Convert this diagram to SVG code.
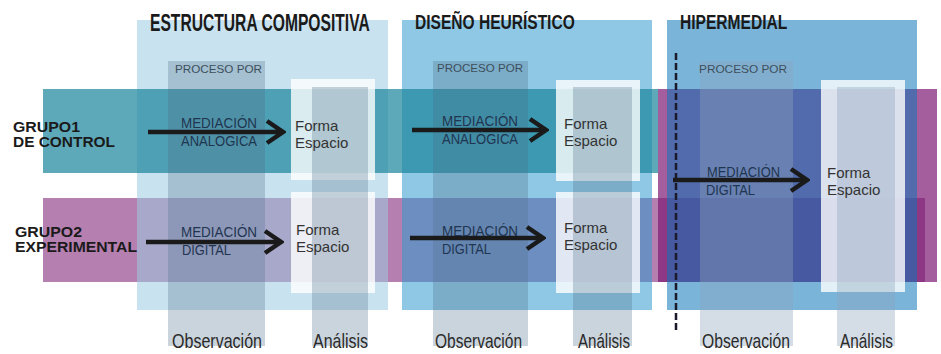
<svg xmlns="http://www.w3.org/2000/svg" width="941" height="354" viewBox="0 0 941 354">
<defs>
<style>
.band2{fill:#b57fb0}
.block{fill:#7e1a74;fill-opacity:.7}
.p1{fill:#9ccbe2;fill-opacity:.55}
.p2{fill:#329bce;fill-opacity:.55}
.p3{fill:#0d76b8;fill-opacity:.55}
.band1{fill:#19849b;fill-opacity:.7}
.frame{fill:#ffffff;fill-opacity:.8}
.col{fill:#50708a;fill-opacity:.3}
.col3{fill:#8fa5bd;fill-opacity:.38}
.hdr{font-family:"Liberation Sans",Arial,sans-serif;font-weight:bold;fill:#1a1a1a}
.grp{font-family:"Liberation Sans",Arial,sans-serif;font-weight:bold;font-size:14px;fill:#1a1a1a}
.proc{font-family:"Liberation Sans",Arial,sans-serif;font-size:11px;fill:#3d4f5c}
.med{font-family:"Liberation Sans",Arial,sans-serif;font-size:14px;fill:#1f3550}
.fe{font-family:"Liberation Sans",Arial,sans-serif;font-size:15px;fill:#333333}
.bot{font-family:"Liberation Sans",Arial,sans-serif;font-size:21px;fill:#2a2a2a}
.arrow{stroke:#1a1a1a;stroke-width:4.5;fill:none;marker-end:url(#chev)}
.dash{stroke:#1a1a2a;stroke-width:2.5;stroke-dasharray:7 3;fill:none}
</style>
<marker id="chev" viewBox="0 0 22 28" markerWidth="22" markerHeight="28" refX="19" refY="14" orient="auto" markerUnits="userSpaceOnUse">
<path d="M3,3 L19,14 L3,25" fill="none" stroke="#1a1a1a" stroke-width="4.5"/>
</marker>
</defs>

<g id="layers">
<rect class="band2" x="43" y="198" width="882" height="84"/>
<rect class="block" x="658" y="89" width="279" height="193"/>
<rect class="p1" x="137" y="20" width="251" height="290"/>
<rect class="p2" x="402" y="20" width="250" height="290"/>
<rect class="p3" x="667" y="20" width="250" height="290"/>
<rect class="band1" x="43" y="89" width="615" height="84"/>
<rect class="frame" x="291" y="79" width="84" height="101"/>
<rect class="frame" x="291" y="192" width="84" height="101"/>
<rect class="frame" x="556" y="80" width="84" height="101"/>
<rect class="frame" x="556" y="192" width="84" height="101"/>
<rect class="frame" x="821" y="80" width="84" height="212"/>
<rect class="col" x="168" y="61" width="97" height="285"/>
<rect class="col" x="312" y="87" width="56" height="259"/>
<rect class="col" x="433" y="61" width="95" height="285"/>
<rect class="col" x="573" y="87" width="59" height="259"/>
<rect class="col3" x="700" y="61" width="93" height="285"/>
<rect class="col3" x="837" y="87" width="58" height="259"/>
<line class="dash" x1="676" y1="53" x2="676" y2="333"/>
</g>

<g id="headers">
<text id="h-estructura" class="hdr" font-size="24" transform="translate(150,31) scale(0.65,1)" x="0" y="0" textLength="338" lengthAdjust="spacingAndGlyphs">ESTRUCTURA COMPOSITIVA</text>
<text id="h-diseno" class="hdr" font-size="21" transform="translate(415,29) scale(0.75,1)" x="0" y="0" textLength="213" lengthAdjust="spacingAndGlyphs">DISEÑO HEURÍSTICO</text>
<text id="h-hiper" class="hdr" font-size="21" transform="translate(680,29) scale(0.75,1)" x="0" y="0" textLength="143" lengthAdjust="spacingAndGlyphs">HIPERMEDIAL</text>
</g>

<g id="grupo1">
<text class="grp" x="13" y="132" textLength="67" lengthAdjust="spacingAndGlyphs">GRUPO1</text>
<text class="grp" x="13" y="147" textLength="102" lengthAdjust="spacingAndGlyphs">DE CONTROL</text>
</g>
<g id="grupo2">
<text class="grp" x="15" y="237" textLength="67" lengthAdjust="spacingAndGlyphs">GRUPO2</text>
<text class="grp" x="15" y="252" textLength="122" lengthAdjust="spacingAndGlyphs">EXPERIMENTAL</text>
</g>

<g id="proceso">
<text class="proc" x="175" y="73" textLength="87" lengthAdjust="spacingAndGlyphs">PROCESO POR</text>
<text class="proc" x="437" y="72" textLength="86" lengthAdjust="spacingAndGlyphs">PROCESO POR</text>
<text class="proc" x="699" y="73" textLength="88" lengthAdjust="spacingAndGlyphs">PROCESO POR</text>
</g>

<g id="connectors">
<line class="arrow" x1="148" y1="132" x2="283" y2="132"/>
<line class="arrow" x1="146" y1="242" x2="281" y2="242"/>
<line class="arrow" x1="412" y1="130" x2="546" y2="130"/>
<line class="arrow" x1="410" y1="238" x2="543" y2="238"/>
<line class="arrow" x1="673" y1="180" x2="807" y2="180"/>
</g>

<g id="med-ec-1">
<text class="med" x="181" y="128" textLength="76" lengthAdjust="spacingAndGlyphs">MEDIACIÓN</text>
<text class="med" x="181" y="146" textLength="76" lengthAdjust="spacingAndGlyphs">ANALÓGICA</text>
</g>
<g id="med-ec-2">
<text class="med" x="181" y="237" textLength="76" lengthAdjust="spacingAndGlyphs">MEDIACIÓN</text>
<text class="med" x="182" y="255" textLength="49" lengthAdjust="spacingAndGlyphs">DIGITAL</text>
</g>
<g id="med-dh-1">
<text class="med" x="442" y="126" textLength="76" lengthAdjust="spacingAndGlyphs">MEDIACIÓN</text>
<text class="med" x="442" y="144" textLength="76" lengthAdjust="spacingAndGlyphs">ANALÓGICA</text>
</g>
<g id="med-dh-2">
<text class="med" x="442" y="236" textLength="76" lengthAdjust="spacingAndGlyphs">MEDIACIÓN</text>
<text class="med" x="442" y="254" textLength="49" lengthAdjust="spacingAndGlyphs">DIGITAL</text>
</g>
<g id="med-hm">
<text class="med" x="707" y="177" textLength="73" lengthAdjust="spacingAndGlyphs">MEDIACIÓN</text>
<text class="med" x="706" y="195" textLength="49" lengthAdjust="spacingAndGlyphs">DIGITAL</text>
</g>

<g id="fe-ec-1"><text class="fe" x="295" y="131">Forma</text><text class="fe" x="295" y="148">Espacio</text></g>
<g id="fe-ec-2"><text class="fe" x="296" y="235">Forma</text><text class="fe" x="296" y="252">Espacio</text></g>
<g id="fe-dh-1"><text class="fe" x="564" y="129">Forma</text><text class="fe" x="564" y="146">Espacio</text></g>
<g id="fe-dh-2"><text class="fe" x="564" y="233">Forma</text><text class="fe" x="564" y="250">Espacio</text></g>
<g id="fe-hm"><text class="fe" x="827" y="178">Forma</text><text class="fe" x="827" y="195">Espacio</text></g>

<g id="bottom-labels">
<text class="bot" x="172" y="348" textLength="90" lengthAdjust="spacingAndGlyphs">Observación</text>
<text class="bot" x="313" y="348" textLength="55" lengthAdjust="spacingAndGlyphs">Análisis</text>
<text class="bot" x="435" y="348" textLength="87" lengthAdjust="spacingAndGlyphs">Observación</text>
<text class="bot" x="578" y="348" textLength="52" lengthAdjust="spacingAndGlyphs">Análisis</text>
<text class="bot" x="702" y="348" textLength="88" lengthAdjust="spacingAndGlyphs">Observación</text>
<text class="bot" x="840" y="348" textLength="53" lengthAdjust="spacingAndGlyphs">Análisis</text>
</g>
</svg>
